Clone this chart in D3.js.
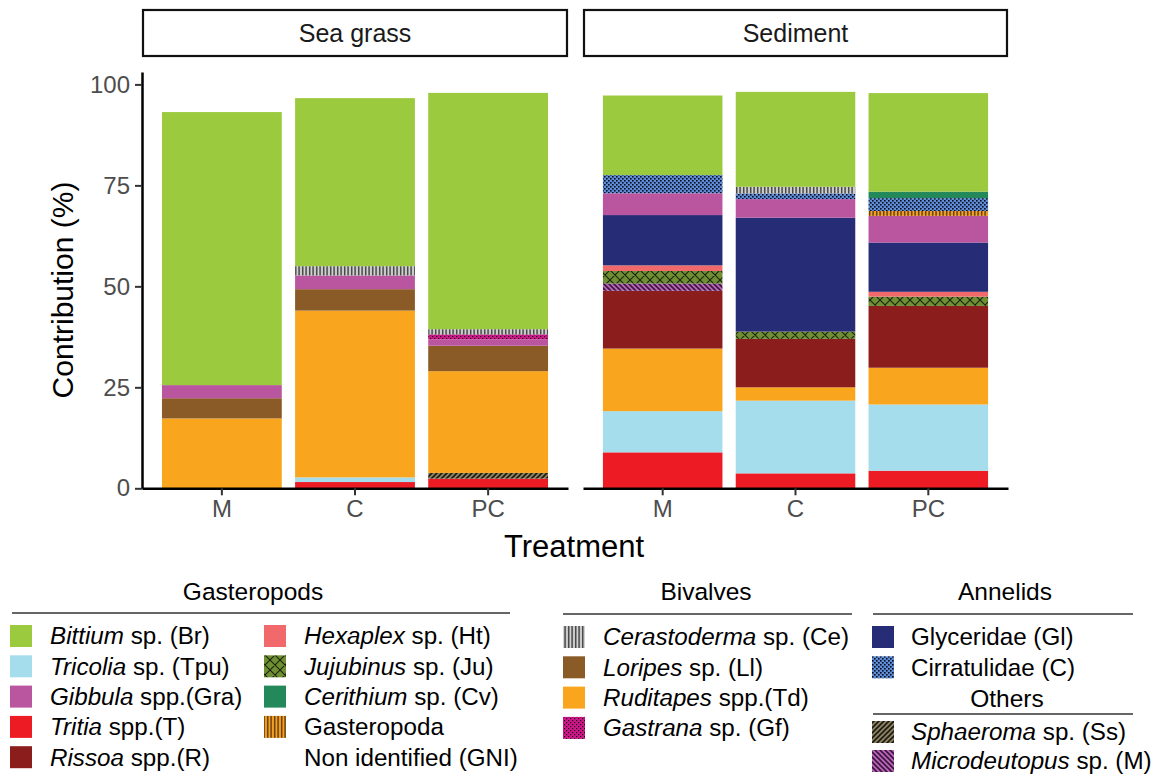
<!DOCTYPE html>
<html><head><meta charset="utf-8">
<script src="https://cdn.jsdelivr.net/npm/d3@7"></script>
<style>
body{margin:0;background:#fff}
text{font-family:"Liberation Sans",Arial,sans-serif;white-space:pre}
</style>
</head><body>
<svg id="chart" width="1166" height="774"></svg>
<script>
// ---------------- DATA ----------------
const habitats = ["Sea grass", "Sediment"];
const treatments = ["M", "C", "PC"];
// stacking order, bottom to top
const taxa = ["T","Tpu","Ss","Td","R","M","Ju","Ht","Gl","Ll","Gra","Gf","GNI","C","Ce","Cv","Br"];
// contributions (%) aligned with taxa
const seaGrassM  = [0,    0,    0,   17.3, 0,    0,   0,   0,   0,     5.0, 3.25, 0,   0,   0,   0,    0,   67.6];
const seaGrassC  = [1.55, 1.15, 0,   41.3, 0,    0,   0,   0,   0,     5.3, 3.4,  0,   0,   0,   2.3,  0,   41.6];
const seaGrassPC = [2.4,  0,    1.4, 25.2, 0,    0,   0,   0,   0,     6.3, 1.6,  1.2, 0,   0,   1.3,  0,   58.5];
const sedimentM  = [8.9,  10.2, 0,   15.5, 14.3, 1.8, 3.1, 1.4, 12.45, 0,   5.4,  0,   0,   4.5, 0,    0,   19.7];
const sedimentC  = [3.7,  18.0, 0,   3.3,  12.0, 0,   1.8, 0,   28.2,  0,   4.6,  0,   0,   1.4, 1.65, 0,   23.5];
const sedimentPC = [4.35, 16.4, 0,   9.1,  15.3, 0,   2.3, 1.2, 12.2,  0,   6.6,  0,   1.2, 3.2, 0,    1.6, 24.4];
const yTicks = [0, 25, 50, 75, 100];
const axisTitles = ["Contribution (%)", "Treatment"];
// legend groups: [key, italic part, plain part]
const legendGasteropods1 = [["Br","Bittium"," sp. (Br)"],["Tpu","Tricolia"," sp. (Tpu)"],["Gra","Gibbula"," spp.(Gra)"],["T","Tritia"," spp.(T)"],["R","Rissoa"," spp.(R)"]];
const legendGasteropods2 = [["Ht","Hexaplex"," sp. (Ht)"],["Ju","Jujubinus"," sp. (Ju)"],["Cv","Cerithium"," sp. (Cv)"],["GNI","","Gasteropoda"],[null,"","Non identified (GNI)"]];
const legendBivalves = [["Ce","Cerastoderma"," sp. (Ce)"],["Ll","Loripes"," sp. (Ll)"],["Td","Ruditapes"," spp.(Td)"],["Gf","Gastrana"," sp. (Gf)"]];
const legendAnnelids = [["Gl","","Glyceridae (Gl)"],["C","","Cirratulidae (C)"]];
const legendOthers = [["Ss","Sphaeroma"," sp. (Ss)"],["M","Microdeutopus"," sp. (M)"]];

// ---------------- STYLE ----------------
const fills = {
  Br:"#9BCA3E", Tpu:"#A5DDEC", Gra:"#BA55A0", T:"#ED1C24", R:"#8B1D1D",
  Ht:"#F1696A", Ju:"url(#pJu)", Cv:"#24895A", GNI:"url(#pGNI)",
  Ce:"url(#pCe)", Ll:"#8A5A27", Td:"#F9A51D", Gf:"url(#pGf)",
  Gl:"#272C77", C:"url(#pC)", Ss:"url(#pSs)", M:"url(#pM)"
};
const FONT = "Liberation Sans, Arial, sans-serif";

const svg = d3.select("#chart");
const defs = svg.append("defs");
function pat(id, w, h, bg, draw){
  const p = defs.append("pattern").attr("id", id).attr("patternUnits","userSpaceOnUse")
    .attr("width", w).attr("height", h);
  p.append("rect").attr("width", w).attr("height", h).attr("fill", bg);
  draw(p);
}
pat("pCe", 3.5, 10, "#d2d2d2", p => p.append("rect").attr("x",1).attr("width",1.3).attr("height",10).attr("fill","#2a2a2a"));
pat("pGNI", 3.5, 10, "#F7A128", p => p.append("rect").attr("x",1).attr("width",1.3).attr("height",10).attr("fill","#4a2d0a"));
pat("pGf", 4, 4, "#D0168A", p => { p.append("rect").attr("x",0).attr("y",0).attr("width",1.2).attr("height",1.2).attr("fill","#1a0010");
  p.append("rect").attr("x",2).attr("y",2).attr("width",1.2).attr("height",1.2).attr("fill","#1a0010"); });
pat("pC", 4, 4, "#5E8FD6", p => { p.append("rect").attr("x",0).attr("y",0).attr("width",1.6).attr("height",1.6).attr("fill","#0a0a20");
  p.append("rect").attr("x",2).attr("y",2).attr("width",1.6).attr("height",1.6).attr("fill","#0a0a20"); });
pat("pJu", 10, 10, "#6E8F33", p => {
  p.append("path").attr("d","M0,0L10,10M-1,9L1,11M9,-1L11,1M0,10L10,0M-1,1L1,-1M9,11L11,9").attr("stroke","#1b2308").attr("stroke-width",1.1);
});
pat("pSs", 5, 5, "#8E8262", p => p.append("path").attr("d","M-1,6L6,-1M-1,1L1,-1M4,6L6,4").attr("stroke","#1a1a10").attr("stroke-width",1.6));
pat("pM", 5, 5, "#B965B6", p => p.append("path").attr("d","M-1,-1L6,6M-1,4L1,6M4,-1L6,1").attr("stroke","#3b1440").attr("stroke-width",1.6));

// ---------------- DATA ROWS ----------------
const barValues = [[seaGrassM, seaGrassC, seaGrassPC],[sedimentM, sedimentC, sedimentPC]];
const rows = [];
habitats.forEach((h, hi) => treatments.forEach((t, ti) => {
  const r = {habitat: h, treatment: t};
  taxa.forEach((k, ki) => r[k] = barValues[hi][ti][ki]);
  rows.push(r);
}));
const series = d3.stack().keys(taxa)(rows);

// ---------------- SCALES ----------------
const y = d3.scaleLinear().domain([0, 103.07]).range([488.3, 72]);
const panels = [{x0:142, x1:568}, {x0:583, x1:1008}];

habitats.forEach((h, hi) => {
  const P = panels[hi];
  const x = d3.scaleBand().domain(treatments).range([P.x0, P.x1]).paddingInner(0.1).paddingOuter(0.15);
  const g = svg.append("g");
  series.forEach(s => {
    g.selectAll(null).data(s.filter(d => d.data.habitat === h && d[1] - d[0] > 0)).join("rect")
      .attr("x", d => x(d.data.treatment))
      .attr("width", x.bandwidth())
      .attr("y", d => y(d[1]))
      .attr("height", d => y(d[0]) - y(d[1]))
      .attr("fill", fills[s.key]);
  });
  // strip
  svg.append("rect").attr("x", P.x0 + 1).attr("y", 10).attr("width", P.x1 - P.x0 - 2).attr("height", 46)
    .attr("fill", "#fff").attr("stroke", "#111").attr("stroke-width", 2.2);
  svg.append("text").attr("x", (P.x0 + P.x1) / 2).attr("y", 33).attr("dy", "0.35em")
    .attr("text-anchor", "middle").attr("font-size", 25).attr("fill", "#1a1a1a").text(h);
  // x axis
  const xa = svg.append("g").attr("transform", `translate(0,${y(0)})`)
    .call(d3.axisBottom(x).tickSize(7).tickSizeOuter(0).tickPadding(5));
  xa.select(".domain").attr("stroke", "#000").attr("stroke-width", 2.5);
  xa.selectAll(".tick line").attr("stroke", "#333").attr("stroke-width", 2);
  xa.selectAll(".tick text").attr("font-size", 24).attr("fill", "#4d4d4d").attr("font-family", FONT);
  if (hi === 0) {
    const ya = svg.append("g").attr("transform", `translate(${P.x0},0)`)
      .call(d3.axisLeft(y).tickValues(yTicks).tickSize(7).tickSizeOuter(0).tickPadding(5));
    ya.select(".domain").attr("stroke", "#000").attr("stroke-width", 2.5);
    ya.selectAll(".tick line").attr("stroke", "#333").attr("stroke-width", 2);
    ya.selectAll(".tick text").attr("font-size", 24).attr("fill", "#4d4d4d").attr("font-family", FONT);
  }
});

// axis titles
svg.append("text").attr("transform", "translate(62,290) rotate(-90)").attr("dy", "0.35em")
  .attr("text-anchor", "middle").attr("font-size", 30).attr("fill", "#000").text(axisTitles[0]);
svg.append("text").attr("x", 574).attr("y", 546).attr("dy", "0.35em")
  .attr("text-anchor", "middle").attr("font-size", 31).attr("fill", "#000").text(axisTitles[1]);

// ---------------- LEGEND ----------------
function legendTitle(label, cx, cy, lx0, lx1, ly){
  svg.append("text").attr("x", cx).attr("y", cy).attr("dy", "0.35em").attr("text-anchor", "middle")
    .attr("font-size", 24.5).attr("fill", "#000").text(label);
  svg.append("line").attr("x1", lx0).attr("x2", lx1).attr("y1", ly).attr("y2", ly)
    .attr("stroke", "#333").attr("stroke-width", 1.3);
}
function legendItems(items, sx, tx, y0, dy){
  items.forEach((it, i) => {
    const cy = y0 + i * dy;
    if (it[0]) svg.append("rect").attr("x", sx).attr("y", cy - 11).attr("width", 22).attr("height", 22).attr("fill", fills[it[0]]);
    const t = svg.append("text").attr("x", tx).attr("y", cy).attr("dy", "0.35em").attr("font-size", 24.2).attr("fill", "#000");
    if (it[1]) t.append("tspan").attr("font-style", "italic").text(it[1]);
    t.append("tspan").text(it[2]);
  });
}
legendTitle("Gasteropods", 253, 591, 12, 510, 613);
legendItems(legendGasteropods1, 10, 50, 636, 30.3);
legendItems(legendGasteropods2, 264, 304, 636, 30.3);
legendTitle("Bivalves", 706, 591, 563, 852, 614);
legendItems(legendBivalves, 563, 603, 637, 30.3);
legendTitle("Annelids", 1005, 591, 873, 1133, 614);
legendItems(legendAnnelids, 872, 911, 637, 30.3);
legendTitle("Others", 1007, 698, 873, 1133, 714);
legendItems(legendOthers, 872, 911, 732, 29);
</script>
</body></html>
